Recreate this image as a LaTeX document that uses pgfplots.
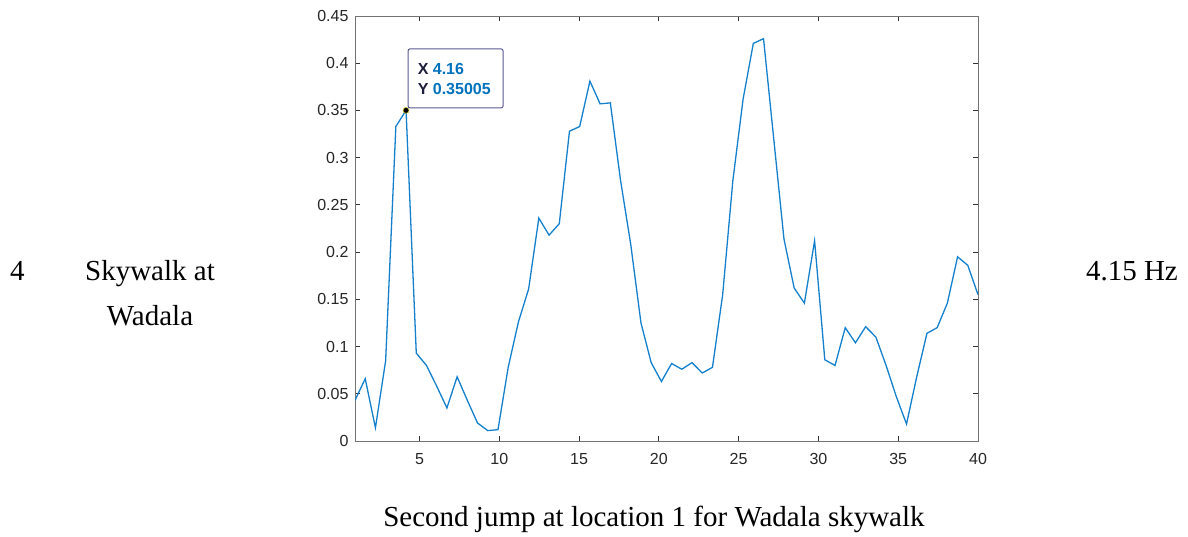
\documentclass[border=0pt]{standalone}
\usepackage{fontspec}
\setmainfont{Liberation Serif}
\newfontfamily\arialf{Liberation Sans}
\usepackage{pgfplots}
\pgfplotsset{compat=1.18}
\definecolor{mblue}{RGB}{20,128,205}
\definecolor{tipblue}{RGB}{0,114,189}
\definecolor{tipborder}{RGB}{90,90,150}
\definecolor{tipdark}{RGB}{30,30,60}
\definecolor{tickgray}{RGB}{38,38,38}

\pgfplotstableread{
x y
0.96 0.043
1.60 0.066
2.24 0.014
2.88 0.085
3.52 0.333
4.16 0.35005
4.80 0.093
5.44 0.080
6.08 0.058
6.72 0.035
7.36 0.068
8.00 0.043
8.64 0.019
9.28 0.011
9.92 0.012
10.56 0.078
11.20 0.126
11.84 0.161
12.48 0.236
13.12 0.218
13.76 0.230
14.40 0.328
15.04 0.333
15.68 0.381
16.32 0.357
16.96 0.358
17.60 0.276
18.24 0.208
18.88 0.125
19.52 0.083
20.16 0.063
20.80 0.082
21.44 0.076
22.08 0.083
22.72 0.072
23.36 0.078
24.00 0.155
24.64 0.276
25.28 0.362
25.92 0.421
26.56 0.426
27.20 0.320
27.84 0.214
28.48 0.162
29.12 0.146
29.76 0.212
30.40 0.086
31.04 0.080
31.68 0.120
32.32 0.104
32.96 0.121
33.60 0.110
34.24 0.080
34.88 0.047
35.52 0.018
36.16 0.068
36.80 0.114
37.44 0.120
38.08 0.146
38.72 0.195
39.36 0.186
40.00 0.155
}\spectrum

\begin{document}
\begin{tikzpicture}[x=1pt,y=1pt]
\path (0,0) rectangle (1188,536);
\begin{axis}[
  at={(355pt,95pt)}, anchor=south west,
  scale only axis, width=623pt, height=425pt,
  xmin=0.96, xmax=40, ymin=0, ymax=0.45,
  xtick={5,10,15,20,25,30,35,40},
  ytick={0,0.05,0.1,0.15,0.2,0.25,0.3,0.35,0.4,0.45},
  tick align=inside, tick pos=both, major tick length=5pt,
  axis line style={draw=black!55, line width=0.9pt},
  every tick/.style={draw=black!80, line width=0.9pt},
  ticklabel style={font=\arialf\fontsize{16}{18}\selectfont, text=tickgray},
  /pgf/number format/assume math mode=true,
  yticklabel style={/pgf/number format/fixed, /pgf/number format/precision=2},
  xticklabel style={yshift=-9pt},
  yticklabel style={xshift=-3pt},
]
\addplot[mblue, line width=1.3pt] table[x=x,y=y] {\spectrum};
\addplot[only marks, mark=*, mark size=3pt, mark options={fill=black, draw=yellow!80!black, line width=0.6pt}] coordinates {(4.16,0.35005)};
\node[draw=tipborder, fill=white, rounded corners=2pt, line width=1pt,
      minimum width=95pt, minimum height=59pt, anchor=south west, inner sep=0pt,
      xshift=1.5pt, yshift=2pt] (tip) at (axis cs:4.16,0.35005) {};
\node[anchor=base west, inner sep=0pt, font=\arialf\bfseries\fontsize{16}{19}\selectfont, xshift=10pt, yshift=-26pt] at (tip.north west) {{\color{tipdark}X} {\color{tipblue}4.16}};
\node[anchor=base west, inner sep=0pt, font=\arialf\bfseries\fontsize{16}{19}\selectfont, xshift=10pt, yshift=-46pt] at (tip.north west) {{\color{tipdark}Y} {\color{tipblue}0.35005}};
\end{axis}
\node[anchor=base west, inner sep=0pt, font=\fontsize{29}{34}\selectfont] at (10,255) {4};
\node[anchor=base, inner sep=0pt, font=\fontsize{29}{34}\selectfont] at (150,255) {Skywalk at};
\node[anchor=base, inner sep=0pt, font=\fontsize{29}{34}\selectfont] at (150,211) {Wadala};
\node[anchor=base east, inner sep=0pt, font=\fontsize{29}{34}\selectfont] at (1178,255) {4.15 Hz};
\node[anchor=base, inner sep=0pt, font=\fontsize{29}{34}\selectfont] at (654,10) {Second jump at location 1 for Wadala skywalk};
\end{tikzpicture}
\end{document}
